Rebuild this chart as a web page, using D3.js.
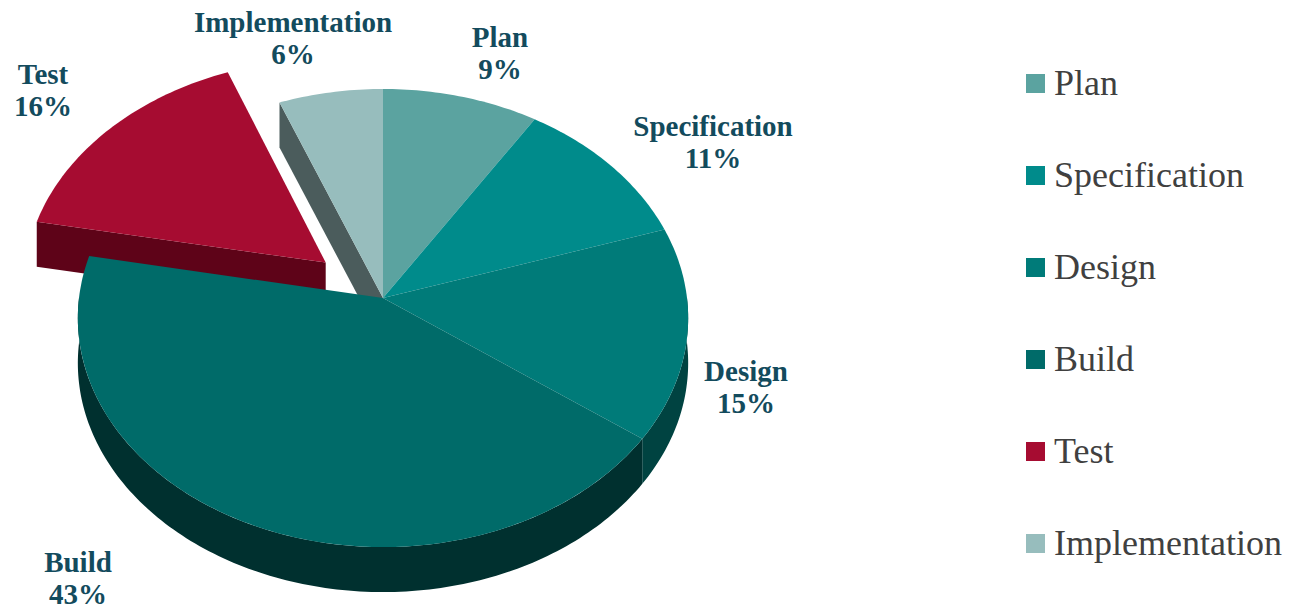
<!DOCTYPE html>
<html><head><meta charset="utf-8">
<script src="https://cdn.jsdelivr.net/npm/d3@7"></script>
<style>body{margin:0;background:#fff}svg{display:block}</style>
</head><body>
<svg id="c" width="1301" height="610"></svg>
<script>
const categories = ["Plan","Specification","Design","Build","Test","Implementation"];
const values = [9, 11, 15, 43, 16, 6];
const labels = ["9%","11%","15%","43%","16%","6%"];
const topColors = ["#5ba3a0","#008b8b","#007b79","#006b69","#a60c31","#97bdbd"];
const sideColors = ["#3a7371","#005757","#004341","#00302f","#5e0318","#4b5c5c"];
const exploded = "Test";

const W = 1301, H = 610;
const cx = 383, cy = 298, rx = 304, ry = 227.3, persp = 0.0874, depth = 45;
const explode = 0.248;

const svg = d3.select("#c");
const pie = d3.pie().sort(null).value(d => d.v);
const data = categories.map((c, i) => ({c, v: values[i], i}));
const arcs = pie(data);

function proj(u, v, dz) {
  const w = 1 / (1 - persp * v);
  return [cx + rx * u * w, cy + ry * v * w + dz];
}
function pt(a, r, off, dz) {
  return proj(off[0] + r * Math.sin(a), off[1] - r * Math.cos(a), dz);
}
function arcPts(a0, a1, off, dz) {
  const n = Math.max(2, Math.ceil(Math.abs(a1 - a0) / (Math.PI / 180)));
  return d3.range(n + 1).map(k => pt(a0 + (a1 - a0) * k / n, 1, off, dz));
}
const line = d3.line();

function offsetOf(d) {
  if (d.data.c !== exploded) return [0, 0];
  const m = (d.startAngle + d.endAngle) / 2;
  return [explode * Math.sin(m), -explode * Math.cos(m)];
}

function drawSlice(g, d, sides) {
  const off = offsetOf(d);
  const i = d.data.i;
  const a0 = d.startAngle, a1 = d.endAngle;
  if (sides) {
    const s = Math.max(a0, Math.PI / 2), e = Math.min(a1, 3 * Math.PI / 2);
    if (e > s) {
      const top = arcPts(s, e, off, 0), bot = arcPts(e, s, off, depth);
      g.append("path").attr("d", line(top.concat(bot)) + "Z").attr("fill", sideColors[i]);
    }
    const c0 = proj(off[0], off[1], 0), c1 = proj(off[0], off[1], depth);
    const faceAt = (a) => {
      const p0 = pt(a, 1, off, 0), p1 = pt(a, 1, off, depth);
      g.append("path").attr("d", line([c0, p0, p1, c1]) + "Z").attr("fill", sideColors[i]);
    };
    if (d.data.c === exploded) faceAt(a0);
    if (arcs[(i + arcs.length - 1) % arcs.length].data.c === exploded) faceAt(a0);
    if (arcs[(i + 1) % arcs.length].data.c === exploded && Math.cos(a1) < 0) faceAt(a1);
  } else {
    const c0 = proj(off[0], off[1], 0);
    const pts = [c0].concat(arcPts(a0, a1, off, 0));
    g.append("path").attr("d", line(pts) + "Z").attr("fill", topColors[i]);
  }
}

const gPie = svg.append("g");
const ex = arcs.filter(d => d.data.c === exploded);
const rest = arcs.filter(d => d.data.c !== exploded);
ex.forEach(d => drawSlice(gPie, d, true));
ex.forEach(d => drawSlice(gPie, d, false));
rest.forEach(d => drawSlice(gPie, d, true));
rest.forEach(d => drawSlice(gPie, d, false));

const labelPos = {
  Plan: [500, 47], Specification: [713, 136], Design: [746, 381],
  Build: [78, 572], Test: [43, 84], Implementation: [293, 32]
};
const gLab = svg.append("g").attr("font-family", "'Liberation Serif', 'Times New Roman', serif")
  .attr("font-weight", "bold").attr("font-size", 29).attr("fill", "#134b5d").attr("text-anchor", "middle");
arcs.forEach(d => {
  const p = labelPos[d.data.c];
  const t = gLab.append("text").attr("x", p[0]).attr("y", p[1]);
  t.append("tspan").attr("x", p[0]).attr("dy", 0).text(d.data.c);
  t.append("tspan").attr("x", p[0]).attr("dy", 32).text(labels[d.data.i]);
});

const ly = d3.scalePoint().domain(categories).range([83.5, 543.5]);
const gLeg = svg.append("g");
categories.forEach((c, i) => {
  const y = ly(c);
  gLeg.append("rect").attr("x", 1026).attr("y", y - 9.5).attr("width", 19).attr("height", 19).attr("fill", topColors[i]);
  gLeg.append("text").attr("x", 1054).attr("y", y + 11.5)
    .attr("font-family", "'Liberation Serif', 'Times New Roman', serif").attr("font-size", 36)
    .attr("fill", "#404040").text(c);
});
</script>
</body></html>
